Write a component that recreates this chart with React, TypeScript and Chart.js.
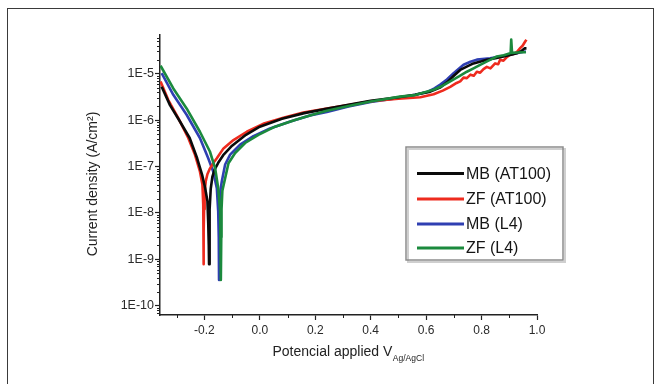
import React, { useEffect, useRef } from 'react';
import { Chart, registerables } from 'chart.js';

Chart.register(...registerables);

const seriesNames = ['MB (AT100)', 'ZF (AT100)', 'MB (L4)', 'ZF (L4)'];
const seriesColors = ['#0a0a0a', '#ee2b1e', '#2f3fb2', '#1b8a3d'];

// MB (AT100)
const mbAt100V = [-0.354, -0.324, -0.288, -0.253, -0.226, -0.208, -0.197, -0.189, -0.186, -0.184, -0.183, -0.182, -0.180, -0.177, -0.171, -0.162, -0.150, -0.132, -0.100, -0.050, 0.000, 0.080, 0.160, 0.240, 0.320, 0.400, 0.500, 0.560, 0.615, 0.650, 0.675, 0.700, 0.723, 0.750, 0.771, 0.800, 0.819, 0.850, 0.879, 0.910, 0.930, 0.945, 0.955, 0.962];
const mbAt100I = [5.2e-6, 2.1e-6, 9.3e-7, 4.1e-7, 1.5e-7, 6.6e-8, 3.4e-8, 1.8e-8, 6e-9, 2e-9, 7.8e-10, 3e-9, 1.2e-8, 3.3e-8, 6e-8, 8.8e-8, 1.2e-7, 1.75e-7, 2.8e-7, 4.8e-7, 7.2e-7, 1.07e-6, 1.41e-6, 1.74e-6, 2.14e-6, 2.6e-6, 3.1e-6, 3.5e-6, 4.1e-6, 5.0e-6, 6.5e-6, 9e-6, 1.2e-5, 1.45e-5, 1.66e-5, 1.85e-5, 2.0e-5, 2.15e-5, 2.35e-5, 2.6e-5, 2.8e-5, 3.1e-5, 3.5e-5, 3.5e-5];

// ZF (AT100)
const zfAt100V = [-0.358, -0.330, -0.294, -0.258, -0.234, -0.216, -0.207, -0.204, -0.203, -0.2025, -0.202, -0.201, -0.199, -0.195, -0.189, -0.180, -0.167, -0.155, -0.131, -0.095, -0.047, 0.012, 0.085, 0.157, 0.242, 0.320, 0.400, 0.500, 0.579, 0.627, 0.660, 0.687, 0.710, 0.723, 0.735, 0.747, 0.760, 0.772, 0.783, 0.795, 0.807, 0.819, 0.832, 0.849, 0.860, 0.867, 0.879, 0.892, 0.904, 0.918, 0.928, 0.940, 0.948, 0.958, 0.962];
const zfAt100I = [6.8e-6, 2.7e-6, 1.1e-6, 4.1e-7, 1.8e-7, 7.8e-8, 4.1e-8, 1.5e-8, 4e-9, 7.8e-10, 4e-9, 1.2e-8, 2.8e-8, 4.8e-8, 6.8e-8, 9e-8, 1.2e-7, 1.5e-7, 2.45e-7, 3.7e-7, 5.6e-7, 8.3e-7, 1.12e-6, 1.45e-6, 1.78e-6, 2.1e-6, 2.55e-6, 2.9e-6, 3.1e-6, 3.6e-6, 4.3e-6, 5.2e-6, 6.3e-6, 6.8e-6, 8.2e-6, 8.0e-6, 9.5e-6, 9.0e-6, 1.1e-5, 1.05e-5, 1.25e-5, 1.4e-5, 1.3e-5, 1.66e-5, 1.6e-5, 2.0e-5, 1.9e-5, 2.3e-5, 2.6e-5, 2.7e-5, 2.95e-5, 3.6e-5, 4.0e-5, 5.0e-5, 5.4e-5];

// MB (L4)
const mbL4V = [-0.354, -0.312, -0.264, -0.216, -0.186, -0.168, -0.155, -0.150, -0.148, -0.147, -0.146, -0.145, -0.143, -0.137, -0.125, -0.107, -0.071, -0.023, 0.037, 0.110, 0.181, 0.242, 0.320, 0.400, 0.500, 0.560, 0.603, 0.630, 0.651, 0.675, 0.699, 0.720, 0.735, 0.760, 0.783, 0.831, 0.892, 0.952, 0.960];
const mbL4I = [1.02e-5, 3.5e-6, 1.3e-6, 4.1e-7, 1.5e-7, 7.8e-8, 3.4e-8, 1.07e-8, 3e-9, 3.6e-10, 3e-9, 1.2e-8, 2.8e-8, 4.8e-8, 1.1e-7, 1.8e-7, 2.95e-7, 4.5e-7, 6.6e-7, 9.3e-7, 1.26e-6, 1.5e-6, 1.95e-6, 2.45e-6, 3.0e-6, 3.5e-6, 4.0e-6, 4.8e-6, 5.8e-6, 7.5e-6, 1.02e-5, 1.3e-5, 1.55e-5, 1.8e-5, 2.0e-5, 2.14e-5, 2.5e-5, 2.95e-5, 3.0e-5];

// ZF (L4)
const zfL4V = [-0.358, -0.312, -0.264, -0.216, -0.180, -0.161, -0.150, -0.143, -0.141, -0.140, -0.139, -0.138, -0.135, -0.125, -0.113, -0.089, -0.053, -0.005, 0.055, 0.127, 0.193, 0.242, 0.320, 0.400, 0.506, 0.560, 0.627, 0.660, 0.687, 0.720, 0.747, 0.771, 0.795, 0.825, 0.855, 0.880, 0.900, 0.905, 0.907, 0.910, 0.930, 0.952, 0.960];
const zfL4I = [1.48e-5, 4.8e-6, 1.78e-6, 5.6e-7, 2.1e-7, 9.1e-8, 3.4e-8, 1.07e-8, 3e-9, 3.6e-10, 3e-9, 1.2e-8, 3e-8, 5.6e-8, 1.17e-7, 1.95e-7, 3.2e-7, 4.8e-7, 7.2e-7, 1.0e-6, 1.32e-6, 1.58e-6, 2.0e-6, 2.5e-6, 3.2e-6, 3.45e-6, 4.5e-6, 5.5e-6, 6.8e-6, 8.8e-6, 1.1e-5, 1.3e-5, 1.55e-5, 1.9e-5, 2.34e-5, 2.5e-5, 2.7e-5, 2.8e-5, 5.4e-5, 2.8e-5, 2.85e-5, 2.9e-5, 2.9e-5];

const xTickValues = [-0.2, 0, 0.2, 0.4, 0.6, 0.8, 1.0];
const xTickLabels = ['-0.2', '0.0', '0.2', '0.4', '0.6', '0.8', '1.0'];
const xMinorTickValues = [-0.3, -0.1, 0.1, 0.3, 0.5, 0.7, 0.9];
const yTickValues = [1e-10, 1e-9, 1e-8, 1e-7, 1e-6, 1e-5];
const yTickLabels = ['1E-10', '1E-9', '1E-8', '1E-7', '1E-6', '1E-5'];
const yMinorDecades = [1e-11, 1e-10, 1e-9, 1e-8, 1e-7, 1e-6, 1e-5];
const yMinorMultipliers = [2, 3, 4, 5, 6, 7, 8, 9];

const xMin = -0.36;
const xMax = 1.0;
const yMin = 6.3e-11;
const yMax = 6.8e-5;

const xTitle = 'Potencial applied V';
const xTitleSub = 'Ag/AgCl';
const yTitle = 'Current density (A/cm²)';

const FONT = '"Liberation Sans", Arial, Helvetica, sans-serif';

const seriesV = [mbAt100V, zfAt100V, mbL4V, zfL4V];
const seriesI = [mbAt100I, zfAt100I, mbL4I, zfL4I];
const drawOrder = [2, 3, 4, 1];

const decorPlugin = {
  id: 'decor',
  afterDraw(chart: any) {
    const { ctx, chartArea, scales } = chart;
    const xs = scales.x;
    const ys = scales.y;
    ctx.save();
    // minor ticks
    ctx.strokeStyle = '#222';
    ctx.lineWidth = 1;
    ctx.beginPath();
    yMinorDecades.forEach((d) => {
      yMinorMultipliers.forEach((m) => {
        const v = d * m;
        if (v > yMin && v < yMax) {
          const py = Math.round(ys.getPixelForValue(v)) + 0.5;
          ctx.moveTo(chartArea.left - 3, py);
          ctx.lineTo(chartArea.left, py);
        }
      });
    });
    xMinorTickValues.forEach((v) => {
      const px = Math.round(xs.getPixelForValue(v)) + 0.5;
      ctx.moveTo(px, chartArea.bottom);
      ctx.lineTo(px, chartArea.bottom + 3);
    });
    ctx.stroke();

    // y title
    ctx.fillStyle = '#222';
    ctx.save();
    ctx.translate(93, 184);
    ctx.rotate(-Math.PI / 2);
    ctx.font = `14px ${FONT}`;
    ctx.textAlign = 'center';
    ctx.textBaseline = 'middle';
    ctx.fillText(yTitle, 0, 0);
    ctx.restore();

    // x title with subscript
    ctx.font = `14px ${FONT}`;
    const w1 = ctx.measureText(xTitle).width;
    ctx.font = `8.5px ${FONT}`;
    const w2 = ctx.measureText(xTitleSub).width;
    const startX = 348 - (w1 + w2) / 2;
    ctx.textAlign = 'left';
    ctx.textBaseline = 'alphabetic';
    ctx.font = `14px ${FONT}`;
    ctx.fillText(xTitle, startX, 356);
    ctx.font = `8.5px ${FONT}`;
    ctx.fillText(xTitleSub, startX + w1 + 0.5, 361);

    // legend box
    const lx = 406, ly = 147, lw = 157, lh = 113;
    ctx.fillStyle = '#ffffff';
    ctx.fillRect(lx, ly, lw, lh);
    ctx.strokeStyle = '#cfcfcf';
    ctx.lineWidth = 2;
    ctx.strokeRect(lx + 2, ly + 2, lw, lh);
    ctx.strokeStyle = '#8c8c8c';
    ctx.lineWidth = 1.5;
    ctx.strokeRect(lx, ly, lw, lh);
    const itemY = [173.5, 199, 224, 248];
    seriesNames.forEach((name, i) => {
      ctx.strokeStyle = seriesColors[i];
      ctx.lineWidth = 3;
      ctx.beginPath();
      ctx.moveTo(417, itemY[i]);
      ctx.lineTo(464, itemY[i]);
      ctx.stroke();
      ctx.fillStyle = '#151515';
      ctx.font = `16px ${FONT}`;
      ctx.textAlign = 'left';
      ctx.textBaseline = 'middle';
      ctx.fillText(name, 466, itemY[i] + 1);
    });
    ctx.restore();
  },
};

export default function App() {
  const ref = useRef<HTMLCanvasElement>(null);
  useEffect(() => {
    const datasets = seriesNames.map((name, i) => ({
      label: name,
      data: seriesV[i].map((v, k) => ({ x: v, y: seriesI[i][k] })),
      borderColor: seriesColors[i],
      backgroundColor: seriesColors[i],
      borderWidth: 2.6,
      pointRadius: 0,
      tension: 0,
      fill: false,
      order: drawOrder[i],
      borderJoinStyle: 'round' as const,
    }));
    const chart = new Chart(ref.current!, {
      type: 'line',
      data: { datasets },
      plugins: [decorPlugin],
      options: {
        animation: false,
        responsive: false,
        devicePixelRatio: 1,
        layout: { padding: { left: 100, right: 124, top: 35, bottom: 29 } },
        plugins: { legend: { display: false }, tooltip: { enabled: false } },
        scales: {
          x: {
            type: 'linear',
            min: xMin,
            max: xMax,
            afterFit: (s: any) => { s.height = 40; },
            afterBuildTicks: (s: any) => { s.ticks = xTickValues.map((v) => ({ value: v })); },
            grid: { display: true, drawOnChartArea: false, drawTicks: true, tickLength: 5, tickColor: '#222', tickWidth: 1.2 },
            border: { display: true, color: '#222', width: 1.5 },
            ticks: {
              autoSkip: false,
              maxRotation: 0,
              padding: 3,
              color: '#2a2a2a',
              font: { family: FONT, size: 12 },
              callback: (v: any) => {
                const idx = xTickValues.findIndex((t) => Math.abs(t - Number(v)) < 1e-9);
                return idx >= 0 ? xTickLabels[idx] : '';
              },
            },
          },
          y: {
            type: 'logarithmic',
            min: yMin,
            max: yMax,
            afterFit: (s: any) => { s.width = 60; },
            afterBuildTicks: (s: any) => { s.ticks = yTickValues.map((v) => ({ value: v, major: true })); },
            grid: { display: true, drawOnChartArea: false, drawTicks: true, tickLength: 5, tickColor: '#222', tickWidth: 1.2 },
            border: { display: true, color: '#222', width: 1.5 },
            ticks: {
              autoSkip: false,
              padding: 1,
              color: '#2a2a2a',
              font: { family: FONT, size: 12.5 },
              callback: (v: any) => {
                const idx = yTickValues.findIndex((t) => Math.abs(t - Number(v)) / t < 1e-6);
                return idx >= 0 ? yTickLabels[idx] : '';
              },
            },
          },
        },
      },
    } as any);
    return () => chart.destroy();
  }, []);
  return (
    <div style={{ position: 'fixed', left: 0, top: 0, width: 661, height: 384, background: '#fff', overflow: 'hidden' }}>
      <canvas ref={ref} width={661} height={384} style={{ position: 'absolute', left: 0, top: 0, width: 661, height: 384 }} />
      <div style={{ position: 'absolute', left: 7, top: 8, width: 647, height: 420, border: '1.5px solid #3a3a3a', boxSizing: 'border-box', pointerEvents: 'none' }} />
    </div>
  );
}
